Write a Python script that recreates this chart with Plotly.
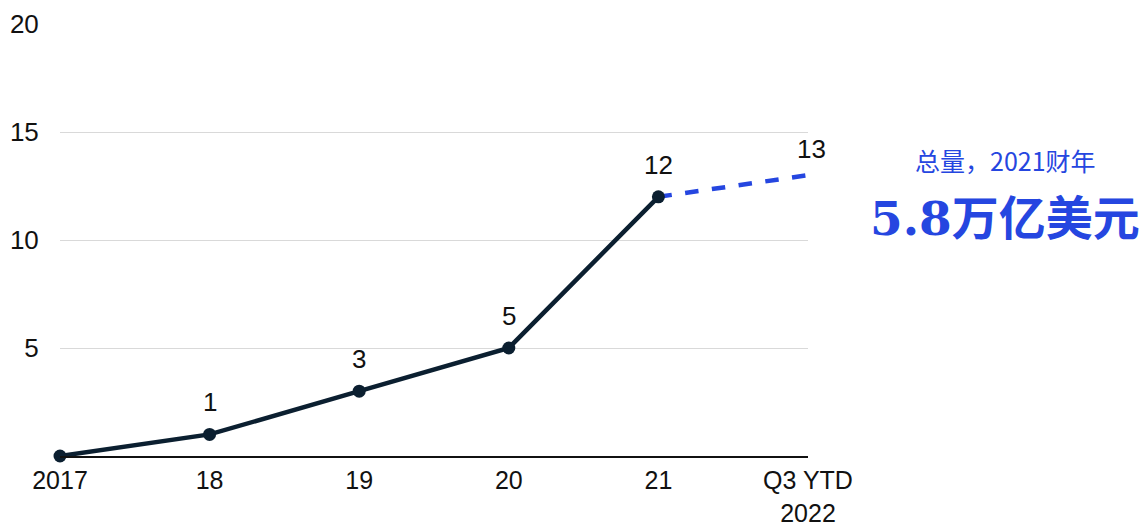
import plotly.graph_objects as go

# Categories along the x axis and yearly values
categories = ["2017", "18", "19", "20", "21", "Q3 YTD<br>2022"]
actual_values = [0, 1, 3, 5, 12]
projected_values = [12, 13]
value_labels = ["", "1", "3", "5", "12", "13"]
y_ticks = [5, 10, 15, 20]

x_pos = list(range(len(categories)))
all_values = actual_values + projected_values[1:]

NAVY = "#0b1f30"
BLUE = "#2546e0"

fig = go.Figure()

# Dashed extension to the year-to-date value
fig.add_trace(go.Scatter(
    x=x_pos[len(actual_values) - 1:], y=projected_values,
    mode="lines",
    line=dict(color=BLUE, width=4.5, dash="dash"),
    hoverinfo="skip", showlegend=False, cliponaxis=False,
))

# Solid historical line with markers
fig.add_trace(go.Scatter(
    x=x_pos[:len(actual_values)], y=actual_values,
    mode="lines+markers",
    line=dict(color=NAVY, width=4.5),
    marker=dict(color=NAVY, size=13),
    showlegend=False, cliponaxis=False,
))

# Value labels above each point
for xi, yi, lab in zip(x_pos, all_values, value_labels):
    if lab:
        fig.add_annotation(
            x=xi, y=yi, text=lab, showarrow=False,
            yshift=32 if xi < len(x_pos) - 1 else 26,
            xshift=0 if xi < len(x_pos) - 1 else 3,
            font=dict(size=26, color="#111111", family="Liberation Sans, Arial"),
        )

# Side callout
fig.add_annotation(
    xref="paper", yref="paper", x=1.2634, y=0.685,
    xanchor="center", yanchor="middle",
    text="总量，2021财年", showarrow=False,
    font=dict(size=25, color=BLUE, family="Noto Sans CJK SC"),
)
fig.add_annotation(
    xref="paper", yref="paper", x=1.2634, y=0.55,
    xanchor="center", yanchor="middle",
    text="<b>5.8万亿美元</b>", showarrow=False,
    font=dict(size=47, color=BLUE, family="DejaVu Serif, Noto Sans CJK SC"),
)

fig.update_layout(
    width=1140, height=529,
    margin=dict(l=60, r=332, t=24, b=73),
    paper_bgcolor="white", plot_bgcolor="white",
    font=dict(family="Liberation Sans, Arial", size=26, color="#111111"),
)
fig.update_xaxes(
    range=[0, 5], tickvals=x_pos, ticktext=categories,
    showgrid=False, showline=True, linecolor="#111111", linewidth=2,
    ticks="outside", ticklen=1, tickcolor="rgba(0,0,0,0)",
    tickfont=dict(size=25), zeroline=False, automargin=False,
)
fig.update_yaxes(
    range=[0, 20], tickvals=y_ticks,
    showgrid=True, gridcolor="#d9d9d9", gridwidth=1,
    showline=False, zeroline=False,
    ticks="outside", ticklen=15, tickcolor="rgba(0,0,0,0)",
    tickfont=dict(size=26), automargin=False,
)

fig.write_html("out.html")
